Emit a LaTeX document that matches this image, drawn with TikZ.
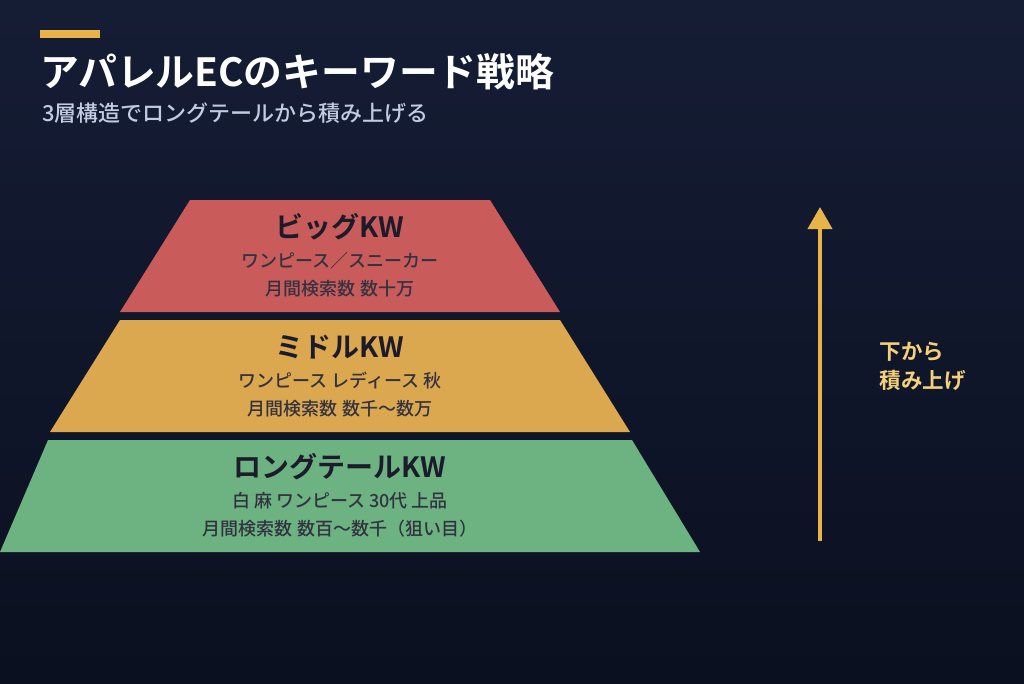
\documentclass[tikz,border=0pt]{standalone}
\usepackage{fontspec}
\setmainfont{Noto Sans CJK JP}
\newfontfamily\jpb{Noto Sans CJK JP Bold}
\newfontfamily\jpm{Noto Sans CJK JP Medium}
\usetikzlibrary{arrows.meta}
\definecolor{bgtop}{HTML}{151D35}
\definecolor{bgbot}{HTML}{0B1020}
\definecolor{gold}{HTML}{E8B44A}
\definecolor{goldtxt}{HTML}{F5D07A}
\definecolor{sub}{HTML}{C3CBE3}
\definecolor{redt}{HTML}{C95C5A}
\definecolor{yelt}{HTML}{DBA84F}
\definecolor{grnt}{HTML}{6DB382}
\definecolor{ink}{HTML}{1B1B2B}
\begin{document}
\begin{tikzpicture}[x=1pt,y=-1pt,
  ttl/.style={font=\jpb\fontsize{28}{32}\selectfont,text=ink},
  sb/.style={font=\jpm\fontsize{18}{22}\selectfont,text=ink!90}]
\useasboundingbox (0,0) rectangle (1024,683);
\shade[top color=bgtop,bottom color=bgbot] (0,0) rectangle (1024,683);
\fill[gold] (40,30) rectangle (100,38);
\node[anchor=base west,inner sep=0,text=white,font=\jpb\fontsize{38.8}{42}\selectfont] (title) at (40,86) {アパレルECのキーワード戦略};
\node[anchor=base west,inner sep=0,text=sub,font=\jpm\fontsize{22}{26}\selectfont] (subt) at (42,121) {3層構造でロングテールから積み上げる};
\fill[redt] (190,200) -- (490,200) -- (560,312) -- (120,312) -- cycle;
\fill[yelt] (120,320) -- (560,320) -- (630,432) -- (50,432) -- cycle;
\fill[grnt] (48,440) -- (632,440) -- (700,552) -- (0,552) -- cycle;
\node[ttl] (t1) at (340,227) {ビッグKW};
\node[sb] (a1) at (340,261) {ワンピース／スニーカー};
\node[sb] (b1) at (340,289) {月間検索数 数十万};
\node[ttl] (t2) at (340,347) {ミドルKW};
\node[sb] (a2) at (340,381) {ワンピース レディース 秋};
\node[sb] (b2) at (340,409) {月間検索数 数千〜数万};
\node[ttl] (t3) at (340,467) {ロングテールKW};
\node[sb] (a3) at (340,501) {白 麻 ワンピース 30代 上品};
\node[sb] (b3) at (340,529) {月間検索数 数百〜数千（狙い目）};
\coordinate (s) at (820,541);
\coordinate (e) at (820,207);
\draw[gold,line width=4pt,-{Triangle[length=22pt,width=24pt]}] (s) -- (e);
\node[anchor=west,align=left,text=goldtxt,font=\jpb\fontsize{21.5}{29}\selectfont] (lab) at (876,366) {下から\\積み上げ};
\end{tikzpicture}
\end{document}
